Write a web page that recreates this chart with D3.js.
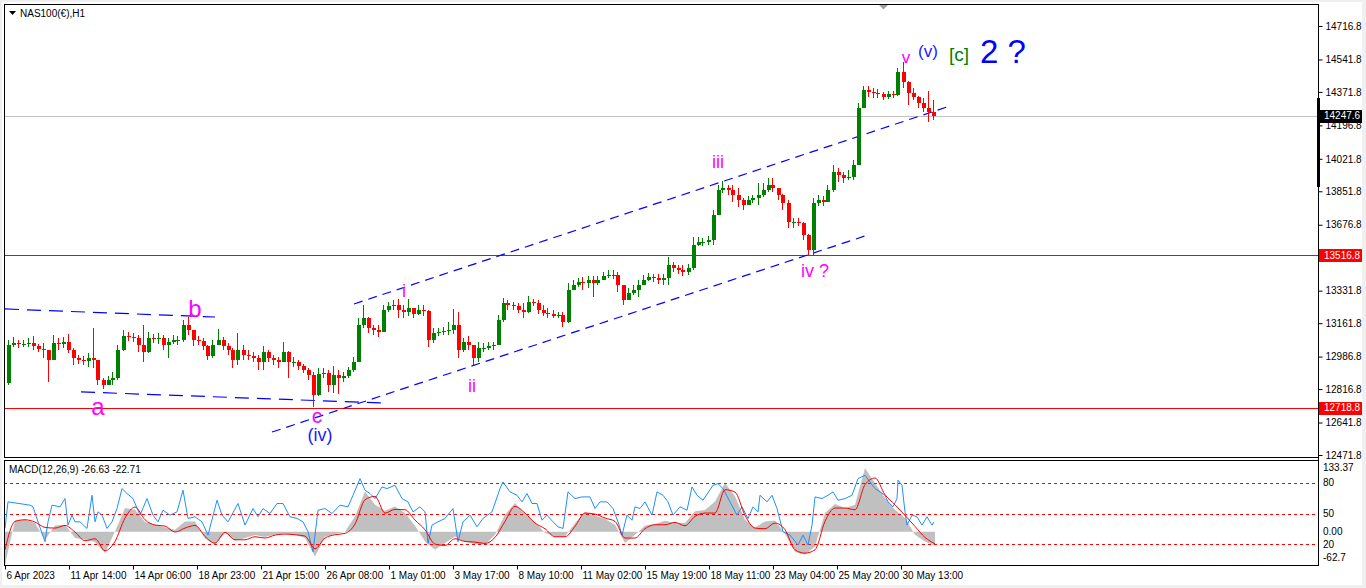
<!DOCTYPE html>
<html>
<head>
<meta charset="utf-8">
<script src="https://cdn.jsdelivr.net/npm/d3@7"></script>
<style>
  html, body { margin: 0; padding: 0; background: #f0f0f0; overflow: hidden; }
  svg { display: block; }
  text { font-family: "Liberation Sans", Arial, sans-serif; }
</style>
</head>
<body>
<svg id="chart" width="1366" height="588"></svg>
<script>
// ======== data (one candle = 5 hourly bars) ========
const BARS_PER_CANDLE = 5;
const firstOpen = 12849;

const closes = [
  13048, 13058, 13053, 13053, 13058, 13042, 13027, 13021, 12969, 13058,
  13053, 13063, 13021, 12980, 12969, 12964, 12980, 12969, 12864, 12838,
  12864, 12875, 13021, 13095, 13089, 13084, 13048, 13011, 13084, 13079,
  13084, 13048, 13063, 13074, 13074, 13152, 13126, 13074, 13069, 13042,
  12990, 13048, 13074, 13042, 13021, 12969, 13021, 12995, 12990, 12980,
  12959, 13011, 12980, 12969, 12959, 13011, 12959, 12959, 12938, 12917,
  12891, 12786, 12896, 12901, 12838, 12891, 12875, 12885, 12917, 12959,
  13152, 13189, 13137, 13126, 13116, 13231, 13252, 13257, 13231, 13220,
  13241, 13210, 13231, 13225, 13074, 13110, 13116, 13121, 13126, 13152,
  13021, 13063, 13048, 12980, 13032, 13032, 13042, 13048, 13178, 13267,
  13257, 13252, 13231, 13220, 13273, 13267, 13231, 13215, 13210, 13199,
  13205, 13168, 13335, 13362, 13377, 13372, 13388, 13372, 13388, 13409,
  13414, 13414, 13362, 13283, 13320, 13335, 13362, 13388, 13403, 13398,
  13388, 13398, 13466, 13451, 13440, 13430, 13451, 13571, 13587, 13587,
  13597, 13728, 13859, 13869, 13859, 13833, 13806, 13780, 13806, 13817,
  13833, 13859, 13885, 13869, 13833, 13791, 13691, 13691, 13686, 13623,
  13545, 13791, 13806, 13796, 13859, 13953, 13937, 13922, 13927, 13990,
  14288, 14382, 14372, 14366, 14361, 14345, 14361, 14356, 14476, 14424,
  14366, 14345, 14314, 14288, 14267, 14247.6
];

const highs = [
  13074, 13089, 13074, 13074, 13084, 13095, 13053, 13058, 13021, 13100,
  13084, 13089, 13105, 13032, 12995, 12990, 13006, 13137, 12969, 12875,
  12885, 12906, 13048, 13126, 13116, 13110, 13100, 13152, 13116, 13105,
  13110, 13100, 13084, 13100, 13095, 13178, 13194, 13126, 13095, 13084,
  13048, 13074, 13131, 13089, 13058, 13032, 13110, 13048, 13021, 13011,
  12995, 13042, 13021, 12995, 12985, 13063, 13015, 12985, 12969, 12948,
  12927, 12906, 12927, 12927, 12917, 12938, 12917, 12906, 12932, 12985,
  13189, 13257, 13195, 13152, 13152, 13257, 13273, 13283, 13288, 13257,
  13288, 13241, 13257, 13257, 13231, 13137, 13137, 13142, 13168, 13236,
  13220, 13084, 13095, 13048, 13063, 13058, 13063, 13063, 13205, 13294,
  13283, 13273, 13267, 13267, 13304, 13288, 13283, 13257, 13241, 13231,
  13220, 13220, 13372, 13388, 13398, 13403, 13409, 13409, 13409, 13430,
  13440, 13440, 13430, 13362, 13346, 13362, 13388, 13414, 13424, 13419,
  13419, 13419, 13508, 13482, 13466, 13466, 13471, 13613, 13613, 13608,
  13618, 13754, 13885, 13906, 13885, 13885, 13869, 13817, 13827, 13833,
  13895, 13895, 13922, 13922, 13869, 13840, 13806, 13712, 13712, 13691,
  13630, 13817, 13833, 13827, 13885, 13990, 13974, 13953, 13963, 14016,
  14314, 14403, 14403, 14393, 14387, 14372, 14377, 14377, 14497, 14529,
  14430, 14393, 14351, 14340, 14377, 14330
];

const lows = [
  12838, 13037, 13032, 13037, 13037, 13021, 13011, 12980, 12854, 12969,
  13021, 13032, 13006, 12943, 12948, 12943, 12932, 12927, 12838, 12817,
  12838, 12838, 12864, 13016, 13069, 13063, 13011, 12959, 13005, 13058,
  13053, 13021, 12980, 13053, 13048, 13063, 13100, 13042, 13048, 13021,
  12969, 12980, 13048, 13021, 12995, 12927, 12943, 12969, 12969, 12959,
  12917, 12917, 12959, 12943, 12927, 12959, 12875, 12932, 12917, 12901,
  12864, 12723, 12780, 12875, 12802, 12796, 12791, 12854, 12875, 12906,
  12959, 13137, 13110, 13100, 13089, 13116, 13220, 13231, 13189, 13189,
  13199, 13189, 13205, 13199, 13037, 13058, 13095, 13100, 13100, 13105,
  12980, 13011, 13021, 12943, 12959, 13011, 13021, 13021, 13048, 13170,
  13231, 13231, 13215, 13189, 13215, 13252, 13210, 13199, 13189, 13189,
  13189, 13142, 13163, 13335, 13351, 13335, 13346, 13299, 13362, 13388,
  13398, 13393, 13325, 13257, 13283, 13309, 13299, 13362, 13383, 13377,
  13367, 13362, 13362, 13430, 13419, 13409, 13414, 13440, 13566, 13566,
  13571, 13571, 13728, 13843, 13833, 13796, 13770, 13754, 13780, 13791,
  13780, 13822, 13848, 13848, 13806, 13754, 13660, 13660, 13670, 13597,
  13513, 13519, 13775, 13775, 13796, 13850, 13901, 13895, 13911, 13911,
  13990, 14288, 14345, 14340, 14340, 14330, 14335, 14340, 14351, 14393,
  14304, 14330, 14288, 14267, 14215, 14225
];

// MACD panel, one sample every 10 hourly bars
const SAMPLE_STEP = 10;
const macdMain = [
  -62.3, 21.4, 22.6, 16.4, -15.1, 11.9, 13.2, -11.9, -15.1, -19.5,
  -40.3, 0.6, 44.7, 41.5, 18.2, 13.2, 8.2, 3.8, 19.5, 19.5,
  -13.2, -24.5, -2.5, -17.0, -11.9, -6.3, -10.1, -5.0, -3.1, -5.7,
  -11.9, -46.5, -8.8, -4.4, 0.6, 28.9, 76.1, 50.9, 39.6, 47.8,
  35.2, 11.3, -18.2, -34.0, -21.4, -8.8, -19.5, -23.3, -24.5, -5.7,
  32.1, 54.1, 33.3, 18.2, -2.5, -8.8, -8.8, 16.4, 37.1, 30.8,
  23.9, 13.2, -21.4, -5.7, 11.9, 14.5, 20.8, 16.4, 16.4, 38.4,
  40.9, 57.2, 91.8, 66.7, 22.6, 8.2, 19.5, 21.4, -4.4, -38.4,
  -43.4, -27.7, 35.2, 52.2, 44.7, 50.9, 120.1, 91.8, 63.5, 41.5,
  25.8, -5.7, -18.2, -26.63
];
const macdSignal = [
  -34.0, 19.5, 22.6, 18.2, 8.2, 6.9, 11.9, -0.6, -17.0, -13.2,
  -35.8, -18.2, 25.8, 46.5, 22.6, 12.6, 10.7, -0.6, 6.9, 11.9,
  -8.8, -21.4, -1.3, -15.1, -15.1, -9.4, -11.9, -6.3, -4.4, -5.7,
  -8.2, -32.1, -11.9, -5.7, -3.1, 14.5, 60.4, 66.7, 35.2, 42.1,
  41.5, 22.0, 3.8, -23.3, -25.8, -13.2, -18.2, -19.5, -22.0, -10.7,
  19.5, 47.8, 35.2, 16.4, 5.7, -9.4, -9.4, 10.1, 35.2, 33.3,
  25.8, 19.5, -11.9, -11.9, 5.7, 13.2, 13.2, 17.6, 11.3, 28.9,
  35.2, 35.2, 79.2, 74.8, 30.8, 6.9, 5.7, 16.4, 3.8, -34.0,
  -40.3, -34.0, 19.5, 44.7, 44.7, 41.5, 88.7, 101.3, 69.8, 50.9,
  30.8, 10.1, -10.7, -22.71
];

// blue oscillator on its own 0..100 scale, read at its turning points
const oscBars = [
  0, 3, 25, 28, 33, 40, 43, 47, 55, 60, 63, 67, 70, 75, 82, 87, 90, 93, 97, 102,
  107, 112, 117, 122, 128, 135, 142, 148, 153, 158, 165, 172, 178, 183, 190, 197, 203, 212, 217, 223,
  233, 240, 248, 253, 258, 265, 272, 278, 285, 292, 298, 303, 308, 313, 320, 327, 335, 343, 348, 355,
  360, 365, 370, 377, 382, 390, 397, 403, 408, 415, 420, 423, 427, 433, 440, 448, 453, 458, 465, 472,
  478, 487, 495, 498, 505, 512, 517, 522, 527, 532, 537, 542, 548, 553, 558, 563, 570, 577, 585, 590,
  595, 602, 608, 613, 617, 622, 627, 630, 635, 640, 647, 652, 658, 663, 668, 675, 682, 687, 692, 698,
  708, 713, 718, 725, 732, 737, 743, 748, 753, 755, 762, 767, 772, 778, 785, 793, 798, 803, 807, 810,
  817, 823, 828, 833, 840, 847, 853, 860, 865, 870, 875, 880, 883, 888, 892, 893, 897, 900, 902, 907,
  912, 917, 922, 927, 929
];
const oscValues = [
  35.5, 61.3, 58.1, 56.5, 41.9, 22.6, 41.9, 58.1, 56.5, 64.5, 38.7, 48.4, 41.9, 41.9, 35.5, 67.7, 41.9, 51.6, 48.4, 35.5,
  41.9, 54.8, 74.2, 69.4, 64.5, 48.4, 64.5, 48.4, 41.9, 53.2, 48.4, 51.6, 72.6, 45.2, 46.8, 41.9, 29.0, 62.9, 48.4, 41.9,
  59.7, 38.7, 54.8, 46.8, 54.8, 50.0, 59.7, 59.7, 46.8, 45.2, 41.9, 32.3, 12.9, 53.2, 54.8, 50.0, 58.1, 56.5, 67.7, 83.9,
  72.6, 69.4, 64.5, 75.8, 74.2, 77.4, 64.5, 61.3, 51.6, 56.5, 51.6, 21.0, 38.7, 41.9, 45.2, 54.8, 22.6, 41.9, 48.4, 37.1,
  45.2, 51.6, 74.2, 80.6, 71.0, 67.7, 61.3, 69.4, 59.7, 59.7, 43.5, 48.4, 41.9, 37.1, 35.5, 71.0, 64.5, 66.1, 66.1, 54.8,
  61.3, 61.3, 54.8, 41.9, 29.0, 48.4, 43.5, 56.5, 54.8, 61.3, 48.4, 71.0, 67.7, 61.3, 48.4, 56.5, 53.2, 75.8, 67.7, 62.9,
  77.4, 79.0, 74.2, 61.3, 48.4, 56.5, 45.2, 56.5, 51.6, 67.7, 61.3, 67.7, 54.8, 32.3, 29.0, 19.4, 29.0, 19.4, 38.7, 66.1,
  64.5, 67.7, 71.0, 62.9, 64.5, 67.7, 83.9, 87.1, 80.6, 74.2, 71.0, 67.7, 61.3, 56.5, 64.5, 82.3, 77.4, 51.6, 38.7, 48.4,
  46.8, 38.7, 46.8, 38.7, 41.9
];
const oscLevels = [80, 50, 20];

// axes
const priceTicks = [14716.8, 14541.8, 14371.8, 14196.8, 14021.8, 13851.8, 13676.8,
  13331.8, 13161.8, 12986.8, 12816.8, 12641.8, 12471.8];
const timeLabels = ['6 Apr 2023', '11 Apr 14:00', '14 Apr 06:00', '18 Apr 23:00', '21 Apr 15:00',
  '26 Apr 08:00', '1 May 01:00', '3 May 17:00', '8 May 10:00', '11 May 02:00', '15 May 19:00',
  '18 May 11:00', '23 May 04:00', '25 May 20:00', '30 May 13:00'];
const BARS_PER_LABEL = 64;

// horizontal levels
const currentPrice = 14247.6;
const redLevels = [13516.8, 12718.8];

// trend lines [bar, price] -> [bar, price]
const trendLines = [
  { from: [0, 13236], to: [210, 13194], dash: '14,8' },
  { from: [76, 12802], to: [377, 12744], dash: '14,8' },
  { from: [349, 13262], to: [942, 14293], dash: '9,6' },
  { from: [267, 12592], to: [860, 13618], dash: '9,6' }
];

// wave counts
const waveLabels = [
  { t: 'a', bar: 93, p: 12681, c: '#ff00ff', s: 24 },
  { t: 'b', bar: 190, p: 13194, c: '#ff00ff', s: 24 },
  { t: 'c', bar: 312, p: 12639, c: '#ff00ff', s: 21 },
  { t: '(iv)', bar: 315, p: 12545, c: '#1a1aff', s: 18 },
  { t: 'i', bar: 399, p: 13299, c: '#ff00ff', s: 18 },
  { t: 'ii', bar: 467, p: 12802, c: '#ff00ff', s: 18 },
  { t: 'iii', bar: 713, p: 13974, c: '#ff00ff', s: 18 },
  { t: 'iv ?', bar: 810, p: 13403, c: '#ff00ff', s: 18 },
  { t: 'v', bar: 901, p: 14523, c: '#ff00ff', s: 17 },
  { t: '(v)', bar: 923, p: 14555, c: '#1a1aff', s: 17 },
  { t: '[c]', bar: 954, p: 14534, c: '#008000', s: 19 },
  { t: '2 ?', bar: 998, p: 14523, c: '#0000ff', s: 33 }
];

// ======== layout ========
const svg = d3.select('#chart');
const L = 4, R = 1318, T = 4, PB = 457, MT = 460, MB = 565;

const x = d3.scaleLinear().domain([0, R - 5]).range([5, R]);
const y = d3.scaleLinear().domain([12471.8, 14716.8]).range([455, 26]);
const yMacd = d3.scaleLinear().domain([-62.7, 133.37]).range([MB, 461]);
const yOsc = d3.scaleLinear().domain([0, 100]).range([MB, 462]);

svg.append('rect').attr('x', 2).attr('y', 2).attr('width', 1360).attr('height', 583).attr('fill', '#fff');

svg.append('defs').append('clipPath').attr('id', 'clipPrice')
  .append('rect').attr('x', L).attr('y', T).attr('width', R - L).attr('height', PB - T);
svg.select('defs').append('clipPath').attr('id', 'clipMacd')
  .append('rect').attr('x', L).attr('y', MT).attr('width', R - L).attr('height', MB - MT);

const price = svg.append('g').attr('clip-path', 'url(#clipPrice)');

// current price + levels
price.append('line').attr('x1', L).attr('x2', R)
  .attr('y1', Math.round(y(currentPrice)) + 0.5).attr('y2', Math.round(y(currentPrice)) + 0.5)
  .attr('stroke', '#c0c0c0');
price.selectAll('.lvl').data(redLevels).enter().append('line')
  .attr('x1', L).attr('x2', R)
  .attr('y1', d => Math.round(y(d)) + 0.5).attr('y2', d => Math.round(y(d)) + 0.5)
  .attr('stroke', '#ff0000');

// trend lines
price.selectAll('.tl').data(trendLines).enter().append('line')
  .attr('x1', d => x(d.from[0])).attr('y1', d => y(d.from[1]))
  .attr('x2', d => x(d.to[0])).attr('y2', d => y(d.to[1]))
  .attr('stroke', '#0000ff').attr('stroke-width', 1.2)
  .attr('stroke-dasharray', d => d.dash);

// candles
const candles = closes.map((c, i) => ({
  bar: i * BARS_PER_CANDLE + BARS_PER_CANDLE / 2,
  o: i ? closes[i - 1] : firstOpen, h: highs[i], l: lows[i], c
}));
const cg = price.append('g').attr('shape-rendering', 'crispEdges');
cg.selectAll('line').data(candles).enter().append('line')
  .attr('x1', d => Math.round(x(d.bar)) + 0.5).attr('x2', d => Math.round(x(d.bar)) + 0.5)
  .attr('y1', d => y(d.h)).attr('y2', d => y(d.l))
  .attr('stroke', d => d.c >= d.o ? '#008000' : '#ff0000');
cg.selectAll('rect').data(candles).enter().append('rect')
  .attr('x', d => Math.round(x(d.bar)) - 1.5).attr('width', 4)
  .attr('y', d => y(Math.max(d.o, d.c)))
  .attr('height', d => Math.max(1, Math.abs(y(d.o) - y(d.c))))
  .attr('fill', d => d.c >= d.o ? '#008000' : '#ff0000');

// wave labels
price.selectAll('.wl').data(waveLabels).enter().append('text')
  .attr('x', d => x(d.bar)).attr('y', d => y(d.p))
  .attr('text-anchor', 'middle')
  .attr('font-size', d => d.s)
  .attr('fill', d => d.c)
  .text(d => d.t);

// ======== MACD panel ========
const macd = svg.append('g').attr('clip-path', 'url(#clipMacd)');
const sx = (d, i) => x(i * SAMPLE_STEP);

macd.append('path').datum(macdMain)
  .attr('d', d3.area().x(sx).y0(yMacd(0)).y1(d => yMacd(d)))
  .attr('fill', '#c0c0c0');
macd.selectAll('.ol').data(oscLevels).enter().append('line')
  .attr('x1', L).attr('x2', R)
  .attr('y1', d => Math.round(yOsc(d)) + 0.5).attr('y2', d => Math.round(yOsc(d)) + 0.5)
  .attr('stroke', '#ff0000').attr('stroke-dasharray', '3,3');
macd.append('path').datum(oscValues)
  .attr('d', d3.line().x((d, i) => x(oscBars[i])).y(d => yOsc(d)))
  .attr('fill', 'none').attr('stroke', '#1e90ff').attr('stroke-width', 1);
macd.append('path').datum(macdSignal)
  .attr('d', d3.line().x(sx).y(d => yMacd(d)).curve(d3.curveMonotoneX))
  .attr('fill', 'none').attr('stroke', '#ff0000').attr('stroke-width', 1);

// ======== frames ========
const frame = svg.append('g').attr('fill', 'none').attr('stroke', '#000').attr('shape-rendering', 'crispEdges');
frame.append('rect').attr('x', L + 0.5).attr('y', T + 0.5).attr('width', R - L).attr('height', PB - T);
frame.append('rect').attr('x', L + 0.5).attr('y', MT + 0.5).attr('width', R - L).attr('height', MB - MT);

// shift marker at top
svg.append('path').attr('d', 'M879,5 L888,5 L883.5,9.5 Z').attr('fill', '#a0a0a0');

// ======== price axis ========
const ax = svg.append('g').attr('transform', `translate(${R + 0.5},0)`)
  .call(d3.axisRight(y).tickValues(priceTicks).tickFormat(d3.format('.1f')).tickSize(4).tickPadding(3));
ax.select('.domain').remove();
ax.selectAll('line').attr('stroke', '#000');
ax.selectAll('text').attr('font-size', 10).attr('fill', '#000')
  .attr('font-family', '"Liberation Sans", Arial, sans-serif');

// black range marker on axis
svg.append('rect').attr('x', R - 1).attr('y', y(14340)).attr('width', 3).attr('height', y(13874) - y(14340)).attr('fill', '#000');

// price boxes
const boxes = [{ v: currentPrice, bg: '#000' }].concat(redLevels.map(v => ({ v, bg: '#ff0000' })));
const bx = svg.selectAll('.pbox').data(boxes).enter().append('g');
bx.append('rect').attr('x', R + 1).attr('y', d => Math.round(y(d.v)) - 6).attr('width', 43).attr('height', 13).attr('fill', d => d.bg);
bx.append('text').attr('x', R + 6).attr('y', d => y(d.v)).attr('dy', '0.35em')
  .attr('font-size', 10).attr('fill', '#fff').text(d => d.v.toFixed(1));

// MACD axis labels
const macdAxis = [
  { t: '133.37', yy: yMacd(133.37) + 6 },
  { t: '80', yy: yOsc(80) },
  { t: '50', yy: yOsc(50) },
  { t: '0.00', yy: yMacd(0) },
  { t: '20', yy: yOsc(20) },
  { t: '-62.7', yy: yMacd(-62.7) - 8 }
];
svg.selectAll('.ma').data(macdAxis).enter().append('text')
  .attr('x', R + 5).attr('y', d => d.yy).attr('dy', '0.35em')
  .attr('font-size', 10).attr('fill', '#000').text(d => d.t);

// frame line right of panels
svg.append('line').attr('x1', R + 0.5).attr('x2', R + 0.5).attr('y1', T).attr('y2', MB + 1).attr('stroke', '#000');

// ======== time axis ========
const tx = svg.append('g').attr('transform', `translate(0,${MB + 0.5})`)
  .call(d3.axisBottom(x).tickValues(timeLabels.map((_, i) => i * BARS_PER_LABEL))
    .tickFormat((_, i) => timeLabels[i]).tickSize(4).tickPadding(2));
tx.select('.domain').remove();
tx.selectAll('line').attr('stroke', '#000');
tx.selectAll('text').attr('text-anchor', 'start').attr('dx', '1').attr('font-size', 10)
  .attr('fill', '#000').attr('font-family', '"Liberation Sans", Arial, sans-serif');

// ======== titles ========
svg.append('path').attr('d', 'M9,11 L16,11 L12.5,15 Z').attr('fill', '#000');
svg.append('text').attr('x', 20).attr('y', 17).attr('font-size', 10).attr('fill', '#000').text('NAS100(€),H1');
svg.append('text').attr('x', 9).attr('y', 473).attr('font-size', 10).attr('fill', '#000').text('MACD(12,26,9) -26.63 -22.71');
</script>
</body>
</html>
